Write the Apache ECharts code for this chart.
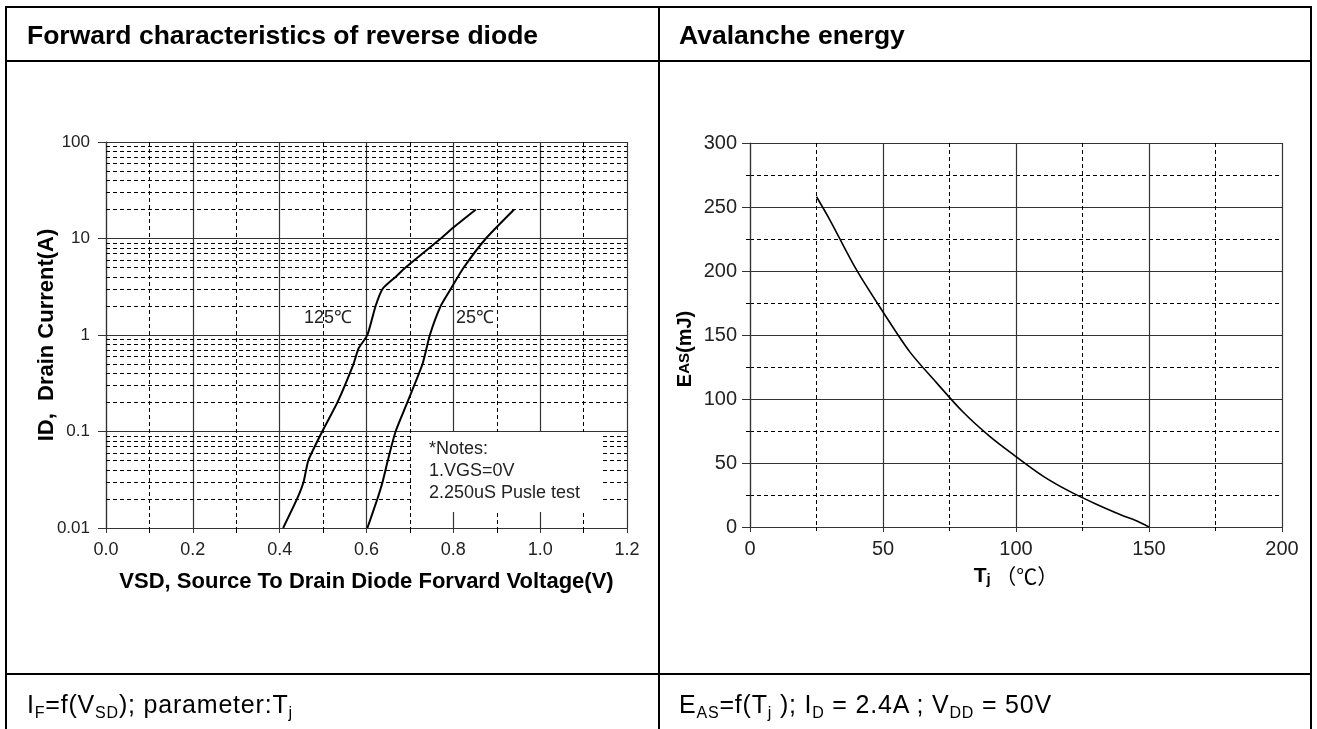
<!DOCTYPE html>
<html>
<head>
<meta charset="utf-8">
<script src="https://cdn.jsdelivr.net/npm/echarts@6/dist/echarts.min.js"></script>
<style>
html,body{margin:0;padding:0;background:#fff;width:1317px;height:729px;overflow:hidden;font-family:"Liberation Sans",Arial,sans-serif;}
#chart{position:absolute;left:0;top:0;width:1317px;height:729px;}
.ln{position:absolute;background:#000;}
.title{position:absolute;font-weight:bold;font-size:26.5px;line-height:30px;color:#000;white-space:nowrap;}
.foot{position:absolute;font-size:25px;line-height:28px;letter-spacing:0.8px;color:#000;white-space:nowrap;}
.foot sub{font-size:16px;vertical-align:-5px;line-height:0;}
</style>
</head>
<body>
<div id="chart"></div>
<div class="ln" style="left:5px;top:6px;width:1307px;height:2px"></div>
<div class="ln" style="left:5px;top:60px;width:1307px;height:2px"></div>
<div class="ln" style="left:5px;top:673px;width:1307px;height:2px"></div>
<div class="ln" style="left:5px;top:6px;width:2px;height:730px"></div>
<div class="ln" style="left:658px;top:6px;width:2px;height:730px"></div>
<div class="ln" style="left:1310px;top:6px;width:2px;height:730px"></div>
<div class="title" style="left:27px;top:20px">Forward characteristics of reverse diode</div>
<div class="title" style="left:679px;top:20px">Avalanche energy</div>
<div class="foot" style="left:27px;top:690px">I<sub>F</sub>=f(V<sub>SD</sub>); parameter:T<sub>j</sub></div>
<div class="foot" style="left:679px;top:690px">E<sub>AS</sub>=f(T<sub>j</sub> ); I<sub>D</sub> = 2.4A ; V<sub>DD</sub> = 50V</div>
<script>
// Forward characteristics of reverse diode
const vsd125 = [0.408, 0.44, 0.455, 0.466, 0.498, 0.533, 0.570, 0.582, 0.602, 0.621, 0.637, 0.667, 0.69, 0.771, 0.80, 0.852];
const id125  = [0.01, 0.02, 0.03, 0.05, 0.1, 0.2, 0.5, 0.73, 1, 2, 3, 4, 5, 10, 13, 20];
const vsd25  = [0.602, 0.625, 0.637, 0.649, 0.667, 0.694, 0.729, 0.746, 0.771, 0.794, 0.824, 0.875, 0.94];
const id25   = [0.01, 0.02, 0.03, 0.05, 0.1, 0.2, 0.5, 1, 2, 3, 5, 10, 20];
const idMinorLines = [0.02,0.03,0.04,0.05,0.06,0.07,0.08,0.09,0.2,0.3,0.4,0.5,0.6,0.7,0.8,0.9,2,3,4,5,6,7,8,9,20,30,40,50,60,70,80,90];
const notesText = ['*Notes:', '1.VGS=0V', '2.250uS Pusle test'];
// Avalanche energy
const tj  = [25, 30, 40, 50, 60, 70, 80, 90, 100, 110, 120, 130, 140, 145, 150];
const eas = [258, 240, 201, 168, 137, 113, 90, 71, 55, 40, 28, 18, 9, 5, 0];

const FONT = '"Liberation Sans", Arial, sans-serif';
const solid = {color:'#333', width:1.2, type:'solid'};
const dashed = {color:'#000', width:1, type:[4,3]};

const chart = echarts.init(document.getElementById('chart'), null, {renderer:'canvas'});
const pair = (xs, ys) => xs.map((x,i)=>[x, ys[i]]);

chart.setOption({
  animation:false,
  textStyle:{fontFamily:FONT},
  grid:[
    {left:106, top:142, width:521, height:386},
    {left:750, top:143, width:532, height:384}
  ],
  xAxis:[
    {gridIndex:0, type:'value', min:0, max:1.2, interval:0.2,
     axisLine:{show:true, lineStyle:{color:'#333', width:1.2}},
     axisTick:{show:true, length:5, lineStyle:{color:'#333'}},
     minorTick:{show:true, splitNumber:2, length:5, lineStyle:{color:'#000'}},
     axisLabel:{fontSize:18, color:'#222', margin:13, formatter:v=>v.toFixed(1)},
     splitLine:{show:true, lineStyle:solid},
     minorSplitLine:{show:true, lineStyle:dashed},
     name:'VSD, Source To Drain Diode Forvard Voltage(V)', nameLocation:'middle', nameGap:43, nameMoveOverlap:false,
     nameTextStyle:{fontSize:22, fontWeight:'bold', color:'#000'}},
    {gridIndex:1, type:'value', min:0, max:200, interval:50,
     axisLine:{show:true, lineStyle:{color:'#333', width:1.2}},
     axisTick:{show:true, length:5, lineStyle:{color:'#333'}},
     minorTick:{show:true, splitNumber:2, length:4, lineStyle:{color:'#000'}},
     axisLabel:{fontSize:20, color:'#222', margin:12},
     splitLine:{show:true, lineStyle:solid},
     minorSplitLine:{show:true, lineStyle:dashed},
     name:'{t|T}{j|j}{c| （℃）}', nameLocation:'middle', nameGap:38, nameMoveOverlap:false,
     nameTextStyle:{rich:{
       t:{fontSize:21, fontWeight:'bold', color:'#000', fontFamily:FONT},
       j:{fontSize:15, fontWeight:'bold', color:'#000', fontFamily:FONT, padding:[7,0,0,0]},
       c:{fontSize:21, color:'#000', fontFamily:'"Noto Sans CJK SC", serif'}
     }}}
  ],
  yAxis:[
    {gridIndex:0, type:'log', logBase:10, min:0.01, max:100,
     axisLine:{show:true, lineStyle:{color:'#333', width:1.2}},
     axisTick:{show:true, length:8, lineStyle:{color:'#333'}},
     axisLabel:{fontSize:17, color:'#222', margin:16,
       formatter:v=>{const m={0.01:'0.01',0.1:'0.1',1:'1',10:'10',100:'100'}; for(const k in m){if(Math.abs(v-k)<k*1e-6) return m[k];} return v;}},
     splitLine:{show:true, lineStyle:solid},
     name:'ID,  Drain Current(A)', nameLocation:'middle', nameGap:48, nameMoveOverlap:false,
     nameTextStyle:{fontSize:22, fontWeight:'bold', color:'#000'}},
    {gridIndex:1, type:'value', min:0, max:300, interval:50,
     axisLine:{show:true, lineStyle:{color:'#333', width:1.2}},
     axisTick:{show:true, length:8, lineStyle:{color:'#333'}},
     minorTick:{show:true, splitNumber:2, length:4, lineStyle:{color:'#000'}},
     axisLabel:{fontSize:20, color:'#222', margin:13},
     splitLine:{show:true, lineStyle:solid},
     minorSplitLine:{show:true, lineStyle:dashed},
     name:'{e|E}{s|AS}{e|(mJ)}', nameLocation:'middle', nameGap:55, nameMoveOverlap:false,
     nameTextStyle:{padding:[0,28,0,0], rich:{
       e:{fontSize:20, fontWeight:'bold', color:'#000', fontFamily:FONT},
       s:{fontSize:15, fontWeight:'bold', color:'#000', fontFamily:FONT}
     }}}
  ],
  graphic:[
    {type:'rect', z:100, shape:{x:411, y:432, width:191, height:80}, style:{fill:'#fff'}},
    {type:'text', z:101, left:429, top:438, style:{text:notesText.join('\n'), font:'18px '+FONT, fill:'#222', lineHeight:22}},
    {type:'text', z:101, left:304, top:309, style:{text:'125℃', font:'18px '+FONT, fill:'#222'}},
    {type:'text', z:101, left:456, top:309, style:{text:'25℃', font:'18px '+FONT, fill:'#222'}}
  ],
  series:[
    {type:'line', name:'125', xAxisIndex:0, yAxisIndex:0, data:pair(vsd125, id125), showSymbol:false, smooth:0.2,
     lineStyle:{color:'#000', width:2}, z:5,
     markLine:{silent:true, symbol:'none', label:{show:false}, lineStyle:dashed,
       data:idMinorLines.map(v=>({yAxis:v}))}},
    {type:'line', name:'25', xAxisIndex:0, yAxisIndex:0, data:pair(vsd25, id25), showSymbol:false, smooth:0.2,
     lineStyle:{color:'#000', width:2}, z:5},
    {type:'line', name:'EAS', xAxisIndex:1, yAxisIndex:1, data:pair(tj, eas), showSymbol:false, smooth:0.3,
     lineStyle:{color:'#000', width:1.6}, z:5}
  ]
});
</script>
</body>
</html>
